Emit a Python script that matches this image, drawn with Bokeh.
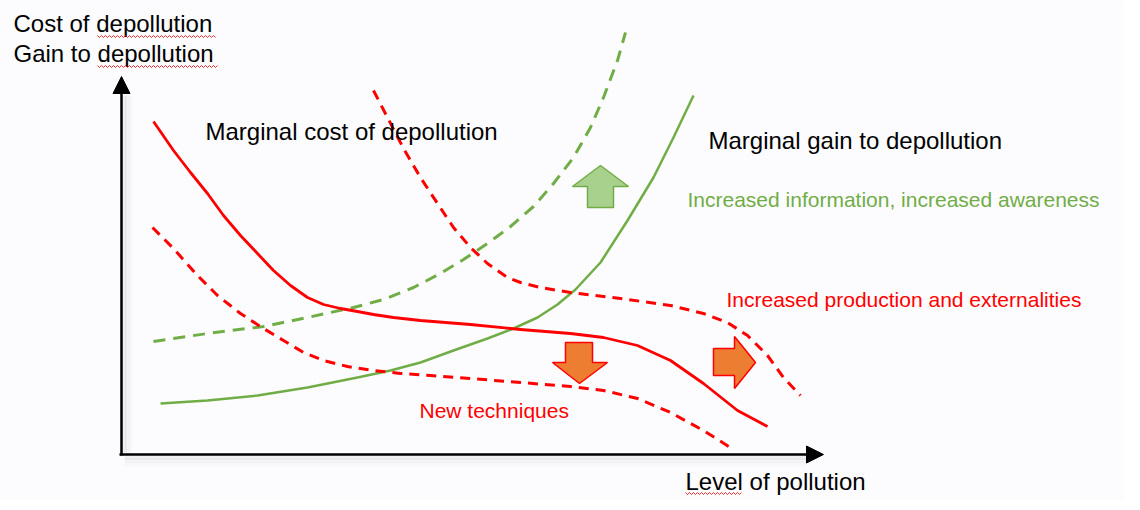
from bokeh.plotting import figure
from bokeh.models import Range1d, Arrow, NormalHead
from bokeh.core.properties import value
from bokeh.embed import file_html
from bokeh.resources import INLINE
import numpy as np

# ---- data (diagram coordinates, in chart units: x to the right, y downward) ----
cost_x = [153, 173, 190, 207, 223, 240, 257, 273, 290, 307, 323, 340, 357, 373, 393, 420,
          470, 520, 570, 603, 637, 670, 703, 737, 767]
cost_y = [121, 150, 172, 193, 215, 235, 253, 270, 285, 297, 304, 308, 311, 314, 317, 320,
          324, 329, 333, 337, 345, 360, 383, 410, 426]

cost_low_x = [152, 173, 197, 217, 240, 263, 283, 303, 323, 347, 373, 400, 430,
              470, 520, 570, 603, 637, 670, 703, 733]
cost_low_y = [227, 248, 275, 295, 313, 328, 340, 352, 360, 366, 370, 373, 375,
              378, 382, 386, 390, 398, 412, 430, 449]

cost_high_x = [373, 387, 403, 420, 437, 453, 470, 487, 507, 520, 540, 570, 620,
               670, 703, 727, 747, 767, 783, 800]
cost_high_y = [90, 117, 148, 177, 203, 227, 247, 263, 277, 282, 287, 292, 298,
               305, 313, 322, 335, 355, 377, 395]

gain_x = [160, 207, 257, 307, 357, 390, 420, 453, 487, 513, 537, 557, 575,
          600, 627, 653, 673, 693]
gain_y = [403, 400, 395, 387, 377, 370, 362, 350, 338, 328, 317, 304, 289,
          262, 220, 177, 137, 95]

gain_high_x = [153, 207, 263, 307, 353, 383, 413, 440, 463, 487, 510, 533, 553,
               573, 590, 603, 617, 625]
gain_high_y = [341, 333, 326, 317, 307, 299, 287, 273, 259, 243, 226, 206, 183,
               157, 127, 97, 60, 32]

up_arrow_x = [587, 613, 613, 628, 600, 572, 587]
up_arrow_y = [207, 207, 186, 186, 165, 186, 186]

down_arrow_x = [565, 592, 592, 607, 579, 552, 565]
down_arrow_y = [342, 342, 362, 362, 383, 362, 362]

right_arrow_x = [713, 734, 734, 755, 734, 734, 713]
right_arrow_y = [348, 348, 336, 362, 388, 375, 375]

RED = "#ff0000"
GREEN = "#70ad47"
FONT = value("Liberation Sans")

p = figure(width=1124, height=500, output_backend="svg", toolbar_location=None,
           x_range=Range1d(0, 1124), y_range=Range1d(500, 0),
           x_axis_location=None, y_axis_location=None, min_border=0)
p.grid.visible = False
p.outline_line_color = None
p.background_fill_color = "#fcfcfe"
p.border_fill_color = "#fcfcfe"

# axis shadows
for off, a in [(3, 0.10), (6, 0.06), (9, 0.03)]:
    p.line([121 + off, 121 + off], [452, 95], line_color="gray", line_width=5, line_alpha=a)
    p.line([124, 806], [454 + off, 454 + off], line_color="gray", line_width=5, line_alpha=a)

# axes
p.add_layout(Arrow(end=NormalHead(size=17, fill_color="black", line_color="black"),
                   x_start=121, y_start=455, x_end=121, y_end=76,
                   line_color="black", line_width=2.5))
p.add_layout(Arrow(end=NormalHead(size=17, fill_color="black", line_color="black"),
                   x_start=119, y_start=454, x_end=823, y_end=454,
                   line_color="black", line_width=2.5))

# curves
p.line(gain_high_x, gain_high_y, line_color=GREEN, line_width=3, line_dash="12 8", line_join="round")
p.line(gain_x, gain_y, line_color=GREEN, line_width=2.5, line_join="round")
p.line(cost_high_x, cost_high_y, line_color=RED, line_width=3, line_dash="10 7", line_join="round")
p.line(cost_low_x, cost_low_y, line_color=RED, line_width=3, line_dash="10 7", line_join="round")
p.line(cost_x, cost_y, line_color=RED, line_width=2.8, line_join="round")

# shift arrows
p.patch(up_arrow_x, up_arrow_y, fill_color="#a9d18e", line_color=GREEN, line_width=1.5)
p.patch(down_arrow_x, down_arrow_y, fill_color="#ed7d31", line_color=RED, line_width=1.5)
p.patch(right_arrow_x, right_arrow_y, fill_color="#ed7d31", line_color=RED, line_width=1.5)

# texts
def txt(x, y, s, size, color):
    p.text([x], [y], text=[s], text_font=FONT, text_font_size=size,
           text_color=color, text_baseline="middle", text_align="left")

txt(13, 23, "Cost of depollution", "24px", "black")
txt(13, 53, "Gain to depollution", "24px", "black")
txt(205, 131, "Marginal cost of depollution", "24px", "black")
txt(708, 140, "Marginal gain to depollution", "24px", "black")
txt(687, 199, "Increased information, increased awareness", "21px", GREEN)
txt(726, 299, "Increased production and externalities", "21px", RED)
txt(419, 410, "New techniques", "21px", RED)
txt(685, 481, "Level of pollution", "24px", "black")

# spell-check squiggles
def squiggle(x0, x1, y):
    xs = np.arange(x0, x1 + 0.1, 2.0)
    ys = y + np.where(np.arange(len(xs)) % 2 == 0, -1.0, 1.0)
    p.line(xs, ys, line_color=RED, line_width=1, line_alpha=0.8)

squiggle(97, 215, 36)
squiggle(97, 217, 66)
squiggle(685, 741, 493)

open("out.html", "w").write(file_html(p, INLINE))
